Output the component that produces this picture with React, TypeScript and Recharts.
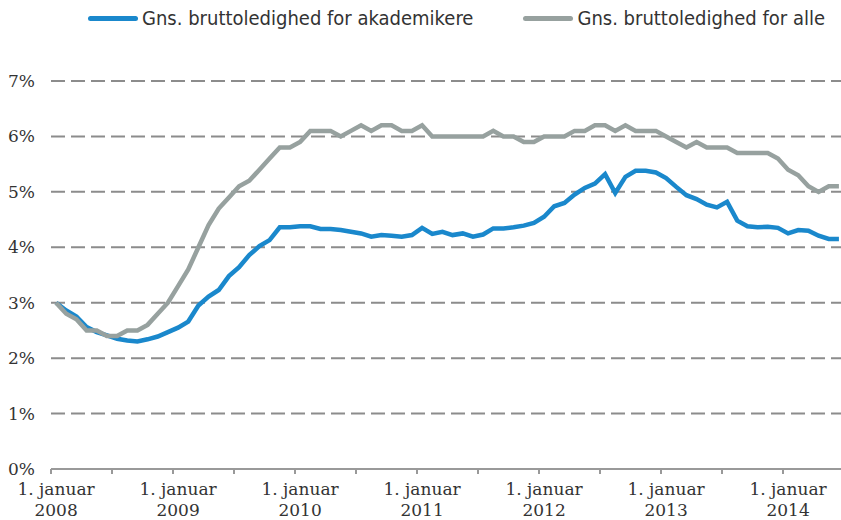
import { LineChart, Line, XAxis, YAxis, CartesianGrid, Legend } from "recharts";

// monthly values, januar 2008 - juni 2014
const yearLabels = ["2008", "2009", "2010", "2011", "2012", "2013", "2014"];

const akademikere = [
  3.0, 2.86, 2.75, 2.56, 2.47, 2.41, 2.35, 2.32, 2.3, 2.34, 2.39, 2.47,
  2.55, 2.66, 2.95, 3.11, 3.23, 3.48, 3.64, 3.86, 4.02, 4.13, 4.36, 4.36,
  4.38, 4.38, 4.33, 4.33, 4.31, 4.28, 4.25, 4.19, 4.22, 4.21, 4.19, 4.22,
  4.35, 4.24, 4.28, 4.22, 4.25, 4.19, 4.23, 4.34, 4.34, 4.36, 4.39, 4.44,
  4.55, 4.74, 4.8, 4.95, 5.07, 5.15, 5.32, 4.98, 5.27, 5.38, 5.38, 5.35,
  5.25, 5.09, 4.94, 4.87, 4.77, 4.72, 4.82, 4.48, 4.38, 4.36, 4.37, 4.35,
  4.25, 4.31, 4.3, 4.21, 4.15, 4.15,
];

const alle = [
  3.0, 2.8, 2.7, 2.5, 2.5, 2.4, 2.4, 2.5, 2.5, 2.6, 2.8, 3.0,
  3.3, 3.6, 4.0, 4.4, 4.7, 4.9, 5.1, 5.2, 5.4, 5.6, 5.8, 5.8,
  5.9, 6.1, 6.1, 6.1, 6.0, 6.1, 6.2, 6.1, 6.2, 6.2, 6.1, 6.1,
  6.2, 6.0, 6.0, 6.0, 6.0, 6.0, 6.0, 6.1, 6.0, 6.0, 5.9, 5.9,
  6.0, 6.0, 6.0, 6.1, 6.1, 6.2, 6.2, 6.1, 6.2, 6.1, 6.1, 6.1,
  6.0, 5.9, 5.8, 5.9, 5.8, 5.8, 5.8, 5.7, 5.7, 5.7, 5.7, 5.6,
  5.4, 5.3, 5.1, 5.0, 5.1, 5.1,
];

const yTicks = [0, 1, 2, 3, 4, 5, 6, 7];

const data = akademikere.map((v, i) => ({ m: i, akademikere: v, alle: alle[i] }));

// tick marks sit between months, every half year
const monthTicks = yearLabels
  .flatMap((_, k) => [k * 12 - 0.5, k * 12 + 5.5])
  .filter((t) => t < data.length - 1);

const W = 846;
const H = 520;
const Y_AXIS_W = 51;
const RIGHT = 2;
const halfStep = (W - Y_AXIS_W - RIGHT) / data.length / 2;

const serif = "'DejaVu Serif', serif";
const textColor = "#333";

function MonthTick(props: any) {
  const { x, y, payload } = props;
  const k = (payload.value + 0.5) / 12;
  if (!Number.isInteger(k)) return <g />;
  return (
    <text
      x={x + halfStep}
      textAnchor="middle"
      fill={textColor}
      fontSize={17}
      fontFamily={serif}
    >
      <tspan x={x + halfStep} y={y + 21}>1. januar</tspan>
      <tspan x={x + halfStep} y={y + 42}>{yearLabels[k]}</tspan>
    </text>
  );
}

function renderLegend(props: any) {
  const { payload } = props;
  return (
    <div style={{ display: "flex", alignItems: "center", paddingLeft: 88 }}>
      {payload.map((p: any, i: number) => (
        <div
          key={p.value}
          style={{ display: "flex", alignItems: "center", marginRight: i === 0 ? 50 : 0 }}
        >
          <span
            style={{
              display: "inline-block",
              width: 50,
              height: 5,
              borderRadius: 3,
              background: p.color,
              marginRight: 4,
            }}
          />
          <span
            style={{
              fontFamily: "'DejaVu Sans Condensed', 'Liberation Sans Narrow', 'Liberation Sans', sans-serif",
              fontSize: 20,
              color: textColor,
              whiteSpace: "nowrap",
            }}
          >
            {p.value}
          </span>
        </div>
      ))}
    </div>
  );
}

export default function App() {
  return (
    <div
      style={{
        position: "absolute",
        left: 0,
        top: 0,
        width: 841,
        height: H,
        overflow: "hidden",
        background: "#fff",
      }}
    >
      <LineChart
        width={W}
        height={H}
        data={data}
        margin={{ top: 81, right: RIGHT, left: 0, bottom: 0 }}
      >
        <CartesianGrid
          vertical={false}
          stroke="#8c8c8c"
          strokeWidth={2}
          strokeDasharray="14 6"
        />
        <XAxis
          dataKey="m"
          type="number"
          domain={[-0.5, data.length - 0.5]}
          ticks={monthTicks}
          interval={0}
          height={51}
          tickSize={5}
          tickMargin={0}
          axisLine={{ stroke: "#999", strokeWidth: 2 }}
          tickLine={{ stroke: "#999", strokeWidth: 2 }}
          tick={MonthTick}
        />
        <YAxis
          domain={[0, 7]}
          ticks={yTicks}
          interval={0}
          width={Y_AXIS_W}
          axisLine={false}
          tickLine={false}
          tickSize={0}
          tickMargin={16}
          tickFormatter={(v: number) => `${v}%`}
          tick={{ fill: textColor, fontSize: 17, fontFamily: serif }}
        />
        <Legend
          verticalAlign="middle"
          layout="horizontal"
          wrapperStyle={{ top: 6, left: 0, width: 841 }}
          content={renderLegend}
        />
        <Line
          type="linear"
          dataKey="akademikere"
          name="Gns. bruttoledighed for akademikere"
          stroke="#1a88cc"
          strokeWidth={4.5}
          dot={false}
          isAnimationActive={false}
        />
        <Line
          type="linear"
          dataKey="alle"
          name="Gns. bruttoledighed for alle"
          stroke="#97a19f"
          strokeWidth={4.5}
          dot={false}
          isAnimationActive={false}
        />
      </LineChart>
    </div>
  );
}
